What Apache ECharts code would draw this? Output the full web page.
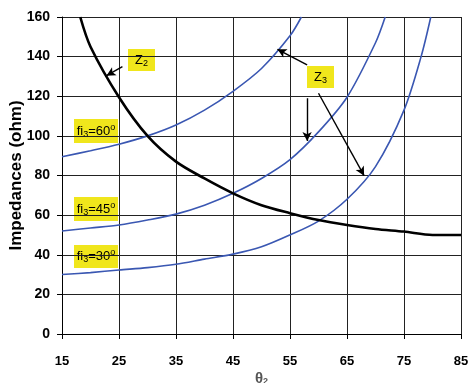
<!DOCTYPE html>
<html>
<head>
<meta charset="utf-8">
<script src="https://cdn.jsdelivr.net/npm/echarts@6/dist/echarts.min.js"></script>
<style>
  html, body { margin: 0; padding: 0; background: #fff; }
  #chart { width: 469px; height: 383px; }
</style>
</head>
<body>
<div id="chart"></div>
<script>
// θ2 (degrees) and impedance values (ohm) for each curve
const xTicks = [15, 25, 35, 45, 55, 65, 75, 85];

const z2Theta = [18.2, 20, 25, 30, 35, 40, 45, 50, 55, 60, 65, 70, 75, 80, 85];
const z2Ohm   = [160, 145, 119.5, 100, 87, 78.5, 71, 65, 61, 57.5, 55, 53, 51.7, 50, 50];

const fi60Theta = [15, 20, 25, 30, 35, 40, 45, 50, 55, 57];
const fi60Ohm   = [89.5, 92.5, 95.8, 100, 105.5, 113, 122.5, 134, 150.5, 160];

const fi45Theta = [15, 20, 25, 30, 35, 40, 45, 50, 55, 60, 65, 70, 71.7];
const fi45Ohm   = [52, 53.5, 55, 57.5, 60.5, 65, 71, 78.5, 88, 102, 119.5, 147, 160];

const fi30Theta = [15, 20, 25, 30, 35, 40, 45, 50, 55, 60, 65, 70, 75, 78, 79.7];
const fi30Ohm   = [30, 31, 32.3, 33.5, 35.2, 37.8, 40.3, 44, 50, 57, 68, 84.5, 113, 140, 160];

// arrow annotations: [tail θ, tail ohm, head θ, head ohm]
const z2Arrow = [25.6, 134.9, 22.8, 130.4];
const z3Arrows = [
  [58.0, 135.8, 52.8, 143.7],
  [58.0, 119.0, 58.0, 97.4],
  [60.0, 121.5, 68.0, 79.9]
];

const pairs = (xs, ys) => xs.map((x, i) => [x, ys[i]]);
const arrowData = list => list.map(a => [{ coord: [a[0], a[1]] }, { coord: [a[2], a[3]] }]);

const FONT = '"Liberation Sans", Arial, sans-serif';
const BLUE = '#3a57b2';
const YELLOW = '#f0e61c';

const arrowMarkLine = list => ({
  silent: true,
  symbol: ['none', 'arrow'],
  symbolSize: [7, 9],
  label: { show: false },
  lineStyle: { color: '#000', width: 1.4, type: 'solid' },
  emphasis: { disabled: true },
  data: arrowData(list)
});

const chart = echarts.init(document.getElementById('chart'), null, { renderer: 'canvas' });

const richLabel = {
  b: { fontFamily: FONT, fontSize: 13, color: '#000', lineHeight: 16 },
  s: { fontFamily: FONT, fontSize: 9, color: '#000', lineHeight: 16, verticalAlign: 'bottom', padding: [6, 0, 0, 0] },
  p: { fontFamily: FONT, fontSize: 9, color: '#000', lineHeight: 16, verticalAlign: 'top', padding: [0, 0, 5, 0] }
};

function tagBox(x, y, w, h, text) {
  return {
    type: 'group',
    x: x, y: y,
    silent: true,
    children: [
      { type: 'rect', shape: { x: 0, y: 0, width: w, height: h }, style: { fill: YELLOW } },
      {
        type: 'text',
        x: w / 2, y: h / 2,
        style: { text: text, rich: richLabel, align: 'center', verticalAlign: 'middle' }
      }
    ]
  };
}

chart.setOption({
  animation: false,
  backgroundColor: '#fff',
  grid: { left: 62, right: 8, top: 17, bottom: 49, containLabel: false, outerBoundsMode: 'none' },
  xAxis: {
    type: 'value',
    min: 15, max: 85,
    name: 'θ{s|2}',
    nameLocation: 'middle',
    nameGap: 37,
    nameMoveOverlap: false,
    nameTextStyle: {
      fontFamily: FONT, fontSize: 15, fontWeight: 'bold', color: '#555', lineHeight: 15,
      rich: { s: { fontFamily: FONT, fontSize: 9, fontWeight: 'bold', color: '#555', lineHeight: 15, verticalAlign: 'bottom', padding: [5, 0, 0, 0] } }
    },
    axisLine: { show: true, lineStyle: { color: '#000', width: 1 } },
    axisTick: { show: true, length: 5, inside: false, customValues: xTicks, lineStyle: { color: '#000' } },
    axisLabel: { customValues: xTicks, margin: 21, fontFamily: FONT, fontSize: 13, fontWeight: 'bold', color: '#000' },
    splitLine: { show: true, lineStyle: { color: '#222', width: 1 } }
  },
  yAxis: {
    type: 'value',
    min: 0, max: 160, interval: 20,
    name: 'Impedances (ohm)',
    nameLocation: 'middle',
    nameGap: 37,
    nameRotate: 90,
    nameMoveOverlap: false,
    nameTextStyle: { fontFamily: FONT, fontSize: 17, fontWeight: 'bold', color: '#000' },
    axisLine: { show: true, lineStyle: { color: '#000', width: 1 } },
    axisTick: { show: true, length: 5, inside: false, lineStyle: { color: '#000' } },
    axisLabel: { margin: 12, fontFamily: FONT, fontSize: 14, fontWeight: 'bold', color: '#000' },
    splitLine: { show: true, lineStyle: { color: '#222', width: 1 } }
  },
  series: [
    {
      name: 'fi3=30°', type: 'line', data: pairs(fi30Theta, fi30Ohm),
      showSymbol: false, smooth: 0.3, clip: true,
      lineStyle: { color: BLUE, width: 1.6 },
      markLine: arrowMarkLine(z3Arrows)
    },
    {
      name: 'fi3=45°', type: 'line', data: pairs(fi45Theta, fi45Ohm),
      showSymbol: false, smooth: 0.3, clip: true,
      lineStyle: { color: BLUE, width: 1.6 }
    },
    {
      name: 'fi3=60°', type: 'line', data: pairs(fi60Theta, fi60Ohm),
      showSymbol: false, smooth: 0.3, clip: true,
      lineStyle: { color: BLUE, width: 1.6 }
    },
    {
      name: 'Z2', type: 'line', data: pairs(z2Theta, z2Ohm),
      showSymbol: false, smooth: 0.3, clip: true,
      lineStyle: { color: '#000', width: 2.6 },
      markLine: arrowMarkLine([z2Arrow])
    }
  ],
  graphic: [
    tagBox(74, 119, 44, 24, '{b|fi}{s|3}{b|=60}{p|o}'),
    tagBox(74, 197, 44, 24, '{b|fi}{s|3}{b|=45}{p|o}'),
    tagBox(74, 245, 44, 23, '{b|fi}{s|3}{b|=30}{p|o}'),
    tagBox(128, 49, 27, 22, '{b|Z}{s|2}'),
    tagBox(307, 66, 27, 22, '{b|Z}{s|3}')
  ]
});
</script>
</body>
</html>
